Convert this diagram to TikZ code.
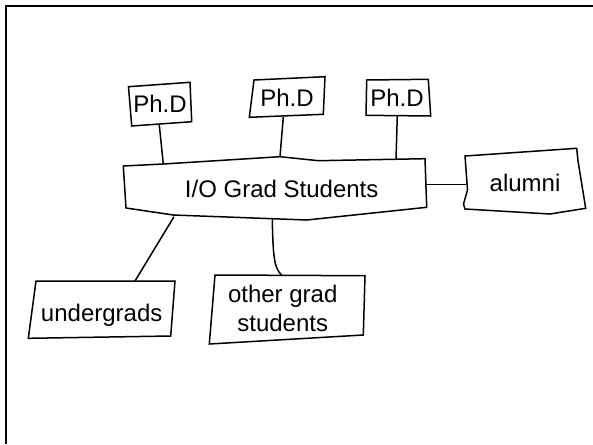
\documentclass[tikz,border=0pt]{standalone}
\usepackage{fontspec}
\setmainfont{Liberation Sans}
\begin{document}
\begin{tikzpicture}[x=1pt,y=-1pt,
  boxline/.style={draw,line width=1.5pt,line join=miter},
  conn/.style={line width=1.5pt},
  lbl/.style={inner sep=0pt,anchor=base,align=center,font=\fontsize{24}{29}\selectfont}]
\useasboundingbox (0,0) rectangle (593,444);
\draw[line width=2.2pt] (6,444) -- (6,6) -- (593,6);
% shapes
\draw[boxline] (128.5,86.7) -- (190,82.3) -- (191.7,121.7) -- (131.7,126) -- cycle;
\draw[boxline] (254,80) -- (325,76.7) -- (323.3,114.3) -- (249.3,117.3) -- cycle;
\draw[boxline] (366.7,80) -- (428.3,79.3) -- (430.7,116) -- (366,115.3) -- cycle;
\draw[boxline] (123.3,166) -- (163.3,164) -- (280,156.7) -- (318.3,160.7) -- (425,158.7)
  -- (426.7,207.3) -- (306.7,220) -- (173.3,215) -- (126,208) -- cycle;
\draw[boxline] (465,156) -- (576.7,148.3) -- (578,161) -- (585.7,208.3) -- (550,214)
  -- (465,209) -- (463.5,204) -- (467.5,190) -- cycle;
\draw[boxline] (36,281) -- (175,281) -- (170.7,336) -- (28.3,338.3) -- cycle;
\draw[boxline] (215,275) -- (365,275.7) -- (363.3,335) -- (209.3,344) -- cycle;
% labels
\node[lbl] (phd1) at (160,112.7) {Ph.D};
\node[lbl] (phd2) at (287,106) {Ph.D};
\node[lbl] (phd3) at (397,106) {Ph.D};
\node[lbl] (io) at (281.7,197.7) {I/O Grad Students};
\node[lbl] (alumni) at (525,191.7) {alumni};
\node[lbl] (under) at (101.7,321) {undergrads};
\node[lbl] (other) at (282.7,331.7) {other grad\\students};
% connector end points
\coordinate (phd1s) at (159.3,125);
\coordinate (phd2s) at (283.3,116.8);
\coordinate (phd3s) at (397.3,115.6);
\coordinate (ion1) at (163.3,164);
\coordinate (ion2) at (280,156.7);
\coordinate (ion3) at (396,159.2);
\coordinate (ioe) at (426,184.3);
\coordinate (alw) at (466.3,184.3);
\coordinate (ios1) at (174,216.7);
\coordinate (ios2) at (272.3,219.3);
\coordinate (undn) at (135,281);
\coordinate (othn) at (281.7,275.3);
\draw[conn] (phd1s) -- (ion1);
\draw[conn] (phd2s) -- (ion2);
\draw[conn] (phd3s) -- (ion3);
\draw[conn] (ioe) -- (alw);
\draw[conn] (ios1) -- (undn);
\draw[conn] (ios2) .. controls (273,262) and (275,268) .. (othn);
\end{tikzpicture}
\end{document}
